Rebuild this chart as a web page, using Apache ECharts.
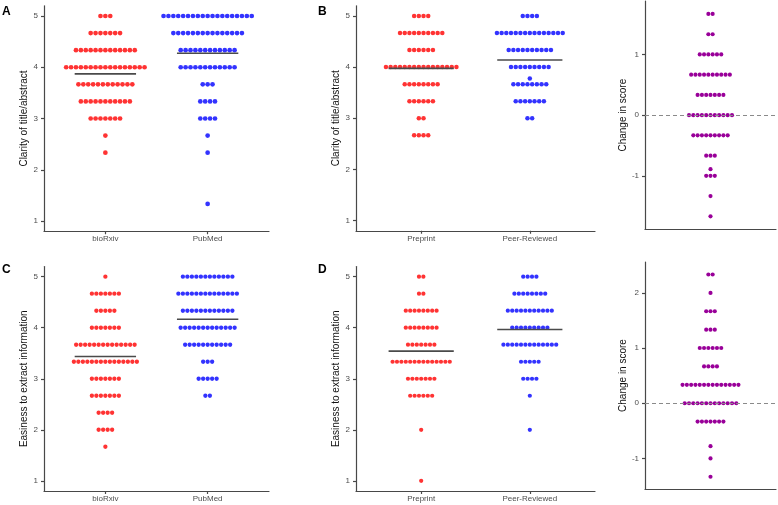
<!DOCTYPE html>
<html><head><meta charset="utf-8">
<script src="https://cdn.jsdelivr.net/npm/echarts@6/dist/echarts.min.js"></script>
<style>html,body{margin:0;padding:0;background:#fff}#c{width:778px;height:505px}</style>
</head><body><div id="c"></div>
<script>
// Each row: [score, number of papers with that score]
const clarityBiorxiv = [[5,3],[4.667,7],[4.333,13],[4,17],[3.667,12],[3.333,11],[3,7],[2.667,1],[2.333,1]];
const clarityPubmed = [[5,19],[4.667,15],[4.333,12],[4,12],[3.667,3],[3.333,4],[3,4],[2.667,1],[2.333,1],[1.333,1]];
const clarityPreprint = [[5,4],[4.667,10],[4.333,6],[4,16],[3.667,8],[3.333,6],[3,2],[2.667,4]];
const clarityPeer = [[5,4],[4.667,15],[4.333,10],[4,9],[3.778,1],[3.667,8],[3.333,7],[3,2]];
const clarityChange = [[1.667,2],[1.333,2],[1,6],[0.667,10],[0.333,7],[0,11],[-0.333,9],[-0.667,3],[-0.889,1],[-1,3],[-1.333,1],[-1.667,1]];
const easeBiorxiv = [[5,1],[4.667,7],[4.333,5],[4,7],[3.667,14],[3.333,15],[3,7],[2.667,7],[2.333,4],[2,4],[1.667,1]];
const easePubmed = [[5,12],[4.667,14],[4.333,12],[4,13],[3.667,11],[3.333,3],[3,5],[2.667,2]];
const easePreprint = [[5,2],[4.667,2],[4.333,8],[4,8],[3.667,7],[3.333,14],[3,7],[2.667,6],[2,1],[1,1]];
const easePeer = [[5,4],[4.667,8],[4.333,11],[4,9],[3.667,13],[3.333,5],[3,4],[2.667,1],[2,1]];
const easeChange = [[2.333,2],[2,1],[1.667,3],[1.333,3],[1,6],[0.667,4],[0.333,14],[0,13],[-0.333,7],[-0.778,1],[-1,1],[-1.333,1]];

const sourceLabels = ['bioRxiv', 'PubMed'];
const versionLabels = ['Preprint', 'Peer-Reviewed'];
const scoreTicks = [1, 2, 3, 4, 5];
const changeTicksB = [-1, 0, 1];
const changeTicksD = [-1, 0, 1, 2];
const panelLetters = ['A', 'B', 'C', 'D'];

const RED = '#FF3333', BLUE = '#3333FF', PURPLE = '#990099';
const FONT = 'Liberation Sans, Arial, sans-serif';

const panels = [
  {grid:{left:44, top:5.75, width:225, height:225.5}, ymin:0.8, ymax:5.2, ticks:scoreTicks, xmax:2.6, labels:sourceLabels,
   groups:[clarityBiorxiv, clarityPubmed], colors:[RED, BLUE], name:'Clarity of title/abstract', gap:11, stepPx:4.9, mean:true},
  {grid:{left:356, top:5.75, width:239, height:225}, ymin:0.8, ymax:5.2, ticks:scoreTicks, xmax:2.6, labels:versionLabels,
   groups:[clarityPreprint, clarityPeer], colors:[RED, BLUE], name:'Clarity of title/abstract', gap:11, stepPx:4.7, mean:true},
  {grid:{left:645, top:1, width:131, height:228.3}, ymin:-1.88, ymax:1.88, ticks:changeTicksB, xmax:1.6, labels:null,
   groups:[clarityChange], colors:[PURPLE], name:'Change in score', gap:14, stepPx:4.3, mean:false},
  {grid:{left:44, top:266.5, width:225, height:224.5}, ymin:0.8, ymax:5.2, ticks:scoreTicks, xmax:2.6, labels:sourceLabels,
   groups:[easeBiorxiv, easePubmed], colors:[RED, BLUE], name:'Easiness to extract information', gap:11, stepPx:4.5, mean:true},
  {grid:{left:356, top:266.5, width:239, height:224.5}, ymin:0.8, ymax:5.2, ticks:scoreTicks, xmax:2.6, labels:versionLabels,
   groups:[easePreprint, easePeer], colors:[RED, BLUE], name:'Easiness to extract information', gap:11, stepPx:4.4, mean:true},
  {grid:{left:645, top:262, width:131, height:227}, ymin:-1.555, ymax:2.56, ticks:changeTicksD, xmax:1.6, labels:null,
   groups:[easeChange], colors:[PURPLE], name:'Change in score', gap:14, stepPx:4.3, mean:false}
];

const axisLineStyle = {color:'#484848', width:1.2};
const grids = [], xAxes = [], yAxes = [], series = [];

panels.forEach((p, i) => {
  grids.push(p.grid);
  const cats = p.groups.map((g, k) => k + 1);
  xAxes.push({
    type:'value', gridIndex:i, min:0.4, max:p.xmax,
    axisLine:{show:true, onZero:false, lineStyle:axisLineStyle},
    axisTick:{show:!!p.labels, customValues:cats, length:3, lineStyle:axisLineStyle},
    axisLabel:{show:!!p.labels, customValues:cats, margin:4, fontSize:8, color:'#4d4d4d', fontFamily:FONT,
      formatter:v => p.labels ? p.labels[Math.round(v) - 1] : ''},
    splitLine:{show:false}
  });
  yAxes.push({
    type:'value', gridIndex:i, min:p.ymin, max:p.ymax,
    axisLine:{show:true, onZero:false, lineStyle:axisLineStyle},
    axisTick:{show:true, customValues:p.ticks, length:3, lineStyle:axisLineStyle},
    axisLabel:{customValues:p.ticks, margin:6, fontSize:8, color:'#4d4d4d', fontFamily:FONT},
    splitLine:{show:false},
    name:p.name, nameLocation:'middle', nameGap:p.gap,
    nameTextStyle:{fontSize:10, color:'#111', fontFamily:FONT}
  });
  const unitPx = p.grid.width / (p.xmax - 0.4);
  const step = p.stepPx / unitPx;
  p.groups.forEach((rows, k) => {
    const c = k + 1;
    const pts = [];
    let sum = 0, n = 0;
    rows.forEach(([v, cnt]) => {
      for (let j = 0; j < cnt; j++) pts.push([c + (j - (cnt - 1) / 2) * step, v]);
      sum += v * cnt; n += cnt;
    });
    const s = {
      type:'scatter', xAxisIndex:i, yAxisIndex:i, data:pts, symbolSize:p.stepPx * 0.96,
      itemStyle:{color:p.colors[k], opacity:1}, silent:true, z:2
    };
    if (!p.mean) {
      s.markLine = {silent:true, symbol:'none', label:{show:false},
        lineStyle:{color:'#8a8a8a', type:[4, 3], width:1}, data:[{yAxis:0}]};
    }
    series.push(s);
    if (p.mean) {
      const m = sum / n;
      series.push({type:'line', xAxisIndex:i, yAxisIndex:i, data:[[c - 0.3, m], [c + 0.3, m]],
        symbol:'none', silent:true, z:3, lineStyle:{color:'#4a4a4a', width:1.6}});
    }
  });
});

const letterPos = [[2, 6], [318, 6], [2, 264], [318, 264]];
const graphic = panelLetters.map((t, i) => ({type:'text', left:letterPos[i][0], top:letterPos[i][1],
  style:{text:t, fontSize:12, fontWeight:'bold', fill:'#000', fontFamily:FONT}}));

const chart = echarts.init(document.getElementById('c'), null, {renderer:'canvas'});
chart.setOption({animation:false, backgroundColor:'#fff', grid:grids, xAxis:xAxes, yAxis:yAxes, series, graphic});
</script></body></html>
